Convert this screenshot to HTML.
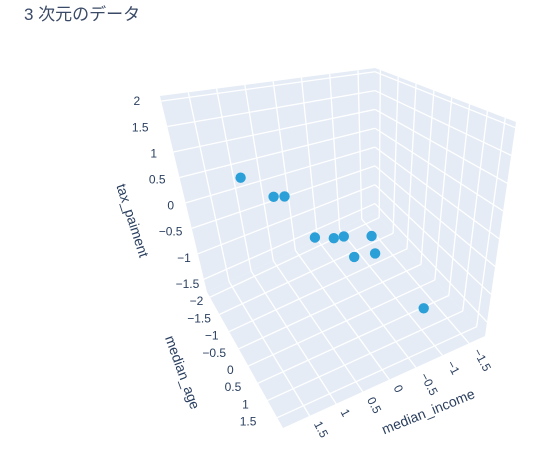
<!DOCTYPE html>
<html><head><meta charset="utf-8"><style>
html,body{margin:0;padding:0;background:#fff;}
svg text{font-family:"Liberation Sans","Noto Sans CJK JP",sans-serif;fill:#2a3f5f;}
</style></head><body>
<svg id="chart" width="540" height="462" viewBox="0 0 540 462">
<text x="24" y="20" font-size="17" fill="#444" style="fill:#3a4a66">3 次元のデータ</text>
<g id="walls"></g><g id="grid"></g><g id="ticks"></g><g id="pts"></g>
<text transform="translate(128,222) rotate(72)" text-anchor="middle" font-size="14">tax_paiment</text>
<text transform="translate(178,374) rotate(70)" text-anchor="middle" font-size="14">median_age</text>
<text transform="translate(430,416) rotate(-22)" text-anchor="middle" font-size="14">median_income</text>
</svg>
<script>
const incomeValues=[1.58,1.05,0.86,0.37,0.02,-0.17,-0.70,-0.36,-0.77,-1.23];
const ageValues=[-0.37,-0.37,-0.37,-0.37,-0.37,-0.37,-0.37,-0.37,-0.37,0.62];
const taxValues=[1.14,0.68,0.64,-0.26,-0.39,-0.42,-0.60,-0.89,-0.98,-1.67];
const incomeTicks=[-1.5,-1,-0.5,0,0.5,1,1.5];
const ageTicks=[-2,-1.5,-1,-0.5,0,0.5,1,1.5];
const taxTicks=[-1.5,-1,-0.5,0,0.5,1,1.5,2];
const incRange=[2.0,-1.8], ageRange=[-2.15,1.8], zRange=[-1.75,2.1];
const F={"00":[207,292],"10":[375,213],"01":[283,428],"11":[485,336]};
const T={"00":[160,96],"10":[375,68],"01":[267,163],"11":[516,122]};
function bil(C,a,b){return [0,1].map(i=>(1-a)*(1-b)*C["00"][i]+a*(1-b)*C["10"][i]+(1-a)*b*C["01"][i]+a*b*C["11"][i]);}
function P(a,b,c){const f=bil(F,a,b),t=bil(T,a,b);return [f[0]+c*(t[0]-f[0]),f[1]+c*(t[1]-f[1])];}
const ax=v=>(v-incRange[0])/(incRange[1]-incRange[0]);
const bx=v=>(v-ageRange[0])/(ageRange[1]-ageRange[0]);
const cx=v=>(v-zRange[0])/(zRange[1]-zRange[0]);
const NS="http://www.w3.org/2000/svg";
function mk(tag,at,parent){const e=document.createElementNS(NS,tag);for(const k in at)e.setAttribute(k,at[k]);document.getElementById(parent).appendChild(e);return e;}
function poly(pts){return pts.map(p=>p[0].toFixed(1)+","+p[1].toFixed(1)).join(" ");}
function lbl(v){return String(v).replace("-","\u2212");}
let w;
w=mk("polygon",{points:poly([P(0,0,0),P(1,0,0),P(1,0,1),P(0,0,1)]),fill:"#e5ecf6"},"walls");


w=mk("polygon",{points:poly([P(1,0,0),P(1,1,0),P(1,1,1),P(1,0,1)]),fill:"#e5ecf6"},"walls");


w=mk("polygon",{points:poly([P(0,0,0),P(1,0,0),P(1,1,0),P(0,1,0)]),fill:"#e5ecf6"},"walls");


function line(p,q,name){const l=mk("line",{x1:p[0],y1:p[1],x2:q[0],y2:q[1],stroke:"#fff","stroke-width":1.3},"grid");

}
incomeTicks.forEach(v=>{const a=ax(v);line(P(a,0,0),P(a,0,1),'income-grid-wall');line(P(a,0,0),P(a,1,0),'income-grid-floor');});
ageTicks.forEach(v=>{const b=bx(v);line(P(1,b,0),P(1,b,1),'age-grid-wall');line(P(0,b,0),P(1,b,0),'age-grid-floor');});
taxTicks.forEach(v=>{const c=cx(v);line(P(0,0,c),P(1,0,c),'tax-grid-left');line(P(1,0,c),P(1,1,c),'tax-grid-right');});
taxTicks.forEach(v=>{const c=cx(v),k=1-c;const p=P(0,0,c);const t=mk("text",{x:(p[0]-21.5+18*k).toFixed(1),y:(p[1]+4+5*k).toFixed(1),"text-anchor":"end","font-size":12},"ticks");t.textContent=lbl(v);

});
ageTicks.forEach(v=>{const b=bx(v);const p=P(0,b,0);const t=mk("text",{x:(p[0]-6-16*b).toFixed(1),y:(p[1]+8).toFixed(1),"text-anchor":"end","font-size":12},"ticks");t.textContent=lbl(v);

});
incomeTicks.forEach(v=>{const p=P(ax(v),1,0);const x=p[0]+4,y=p[1]+8;const t=mk("text",{transform:`translate(${x.toFixed(1)},${y.toFixed(1)}) rotate(62)`,"font-size":12},"ticks");t.textContent=lbl(v);

});
incomeValues.forEach((v,i)=>{const p=P(ax(v),bx(ageValues[i]),cx(taxValues[i]));const c=mk("circle",{cx:p[0].toFixed(1),cy:p[1].toFixed(1),r:5.2,fill:"#2a9fd8"},"pts");

});
</script>
</body></html>
